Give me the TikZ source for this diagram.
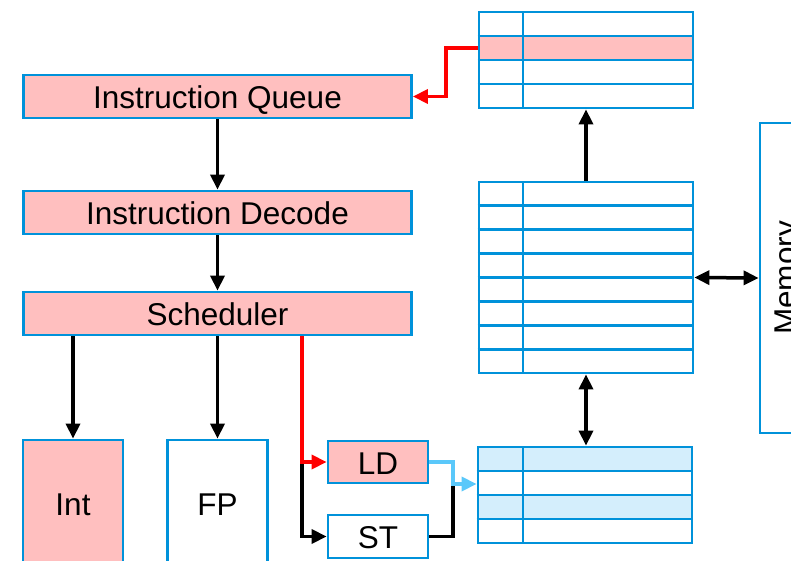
\documentclass[tikz,border=0pt]{standalone}
\usepackage{fontspec}
\setmainfont{Liberation Sans}
\usetikzlibrary{arrows.meta}
\definecolor{edgeblue}{RGB}{0,146,218}
\definecolor{pinkfill}{RGB}{255,191,191}
\definecolor{paleblue}{RGB}{212,238,252}
\definecolor{skyarrow}{RGB}{90,200,250}
\definecolor{hotred}{RGB}{255,0,0}
\begin{document}
\begin{tikzpicture}[x=1pt,y=-1pt,
  box/.style={draw=edgeblue, line width=2.8pt, inner sep=0pt,
    font=\fontsize{31.5}{36}\selectfont, text=black,
    text height=24pt, text depth=0pt},
  stage/.style={box, fill=pinkfill},
  tbl/.style={draw=edgeblue, line width=2.8pt, inner sep=0pt},
  tip/.tip={Triangle[length=15pt,width=14pt]},
  flow/.style={line width=3.5pt, -tip},
  both/.style={line width=3.5pt, tip-tip},
]
\useasboundingbox (0,0) rectangle (791,561);

% pipeline stages
\node[stage, minimum width=388pt, minimum height=43pt] (iq) at (217.5,96.5) {Instruction Queue};
\node[stage, minimum width=388pt, minimum height=43pt] (id) at (217.5,212.5) {Instruction Decode};
\node[stage, minimum width=388pt, minimum height=43pt] (sch) at (217.5,313.5) {Scheduler};

% execution units
\node[stage, minimum width=100pt, minimum height=126pt] (int) at (73,503) {Int};
\node[box, fill=white, minimum width=100pt, minimum height=126pt] (fp) at (217.5,503) {FP};
\node[stage, minimum width=100pt, minimum height=42pt] (ld) at (378,462) {LD};
\node[box, fill=white, minimum width=100pt, minimum height=43pt] (st) at (378,536.5) {ST};

% highlighted rows of the tables
\fill[pinkfill] (479,36) rectangle (693,60);
\fill[paleblue] (478,447) rectangle (692,471);
\fill[paleblue] (478,495) rectangle (692,519);

% upper table (4 rows)
\node[tbl, minimum width=214pt, minimum height=96pt] (tq) at (586,60) {};
\foreach \yy in {36,60,84}
  \draw[tbl] (tq.west |- 0,\yy) -- (tq.east |- 0,\yy);
\draw[tbl] (523,12) -- (523,108);

% middle table (8 rows)
\node[tbl, minimum width=214pt, minimum height=191pt] (tm) at (586,277.5) {};
\foreach \k in {1,...,7}
  \draw[tbl] (tm.west |- 0,{182+23.875*\k}) -- (tm.east |- 0,{182+23.875*\k});
\draw[tbl] (523,182) -- (523,373);

% lower table (4 rows)
\node[tbl, minimum width=214pt, minimum height=96pt] (tb) at (585,495) {};
\foreach \yy in {471,495,519}
  \draw[tbl] (tb.west |- 0,\yy) -- (tb.east |- 0,\yy);
\draw[tbl] (523,447) -- (523,543);

% memory
\node[box, rotate=90, minimum width=310pt, minimum height=48pt] (mem) at (784,278) {Memory};

% connectors
\coordinate (bend) at (446,48);
\coordinate (split) at (302,462);
\coordinate (join) at (453,484);

\draw[flow, hotred] (tq.west |- bend) -- (bend) |- (iq.east);
\draw[flow] (iq.south) -- (id.north);
\draw[flow] (id.south) -- (sch.north);
\draw[flow] (sch.south -| int.north) -- (int.north);
\draw[flow] (sch.south -| fp.north) -- (fp.north);
\draw[flow] (split) |- (st.west);
\draw[flow, hotred] (sch.south -| split) |- (ld.west);
\draw[line width=3.5pt] (st.east) -| (join);
\draw[flow, skyarrow] (ld.east) -| (join) -- (tb.west |- join);
\draw[flow] (tm.north) -- (tm.north |- tq.south);
\draw[both] (tm.south) -- (tm.south |- tb.north);
\draw[both] (tm.east) -- (mem.north);
\end{tikzpicture}
\end{document}
